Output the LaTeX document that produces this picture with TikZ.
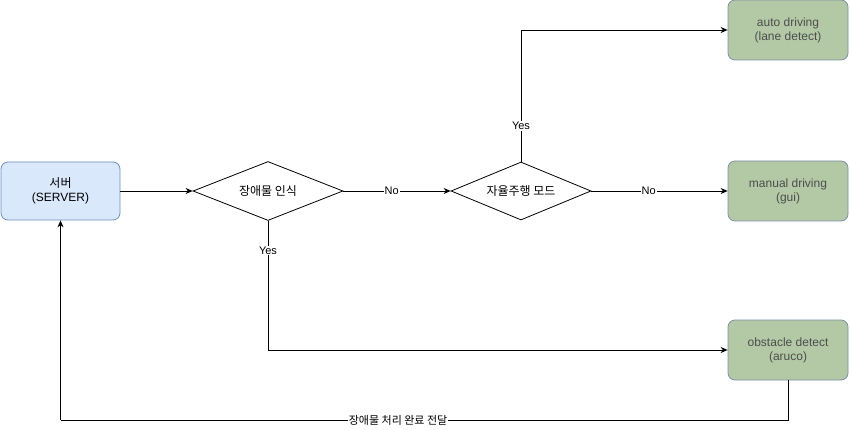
\documentclass[tikz,border=0pt]{standalone}
\usepackage{fontspec}
\setmainfont{Liberation Sans}
\newfontfamily\cjk{Noto Sans CJK KR}
\usetikzlibrary{shapes.geometric,arrows.meta}
\definecolor{bluefill}{HTML}{DAE8FC}
\definecolor{bluedraw}{HTML}{6C8EBF}
\definecolor{greenfill}{HTML}{B3C9A6}
\definecolor{greendraw}{HTML}{7D8FA6}
\definecolor{boxtext}{HTML}{4D4D4D}
\tikzset{
  bluebox/.style={draw=bluedraw, line width=0.8pt, fill=bluefill, rounded corners=7pt, minimum width=119pt, minimum height=58pt, align=center, font=\fontsize{12}{14}\selectfont, inner sep=0pt},
  greenbox/.style={draw=greendraw, line width=0.8pt, fill=greenfill, rounded corners=7pt, minimum width=120pt, minimum height=60pt, align=center, text=boxtext, font=\fontsize{12}{14}\selectfont, inner sep=0pt},
  decision/.style={draw, line width=0.8pt, diamond, aspect=2.5, inner sep=0pt, font=\fontsize{12}{14}\selectfont},
  conn/.style={draw, line width=0.8pt, -{Stealth[length=7pt,width=6pt]}},
  plain/.style={draw, line width=0.8pt},
  lbl/.style={fill=white, inner sep=1pt, font=\fontsize{11}{13}\selectfont}
}
\begin{document}
\begin{tikzpicture}[x=1pt,y=-1pt]
\useasboundingbox (0,0) rectangle (850,430);
\node[bluebox] (server) at (60.5,191) {{\cjk 서버}\\(SERVER)};
\node[decision, minimum width=150pt, minimum height=59pt] (d1) at (268,191) {\cjk 장애물 인식};
\node[decision, minimum width=140pt, minimum height=58pt] (d2) at (521,191) {\cjk 자율주행 모드};
\node[greenbox] (auto) at (788,30) {auto driving\\(lane detect)};
\node[greenbox] (manual) at (788,191) {manual driving\\(gui)};
\node[greenbox] (obst) at (788,350) {obstacle detect\\(aruco)};
\coordinate (c1) at (521,30);
\coordinate (c2) at (268,350);
\coordinate (c3) at (788,420);
\coordinate (c4) at (60.5,420);
\draw[conn] (server.east) -- (d1.west);
\draw[conn] (d1.east) -- node[lbl, pos=0.45] {No} (d2.west);
\draw[conn] (d2.east) -- node[lbl, pos=0.42] {No} (manual.west);
\draw[conn] (d2.north) -- node[lbl, pos=0.27] {Yes} (c1) -- (auto.west);
\draw[conn] (d1.south) -- node[lbl, pos=0.23] {Yes} (c2) -- (obst.west);
\draw[plain] (obst.south) -- (c3) -- node[lbl, pos=0.536, inner sep=0.5pt] {\cjk 장애물 처리 완료 전달} (c4);
\draw[conn] (c4) -- (server.south);
\end{tikzpicture}
\end{document}
